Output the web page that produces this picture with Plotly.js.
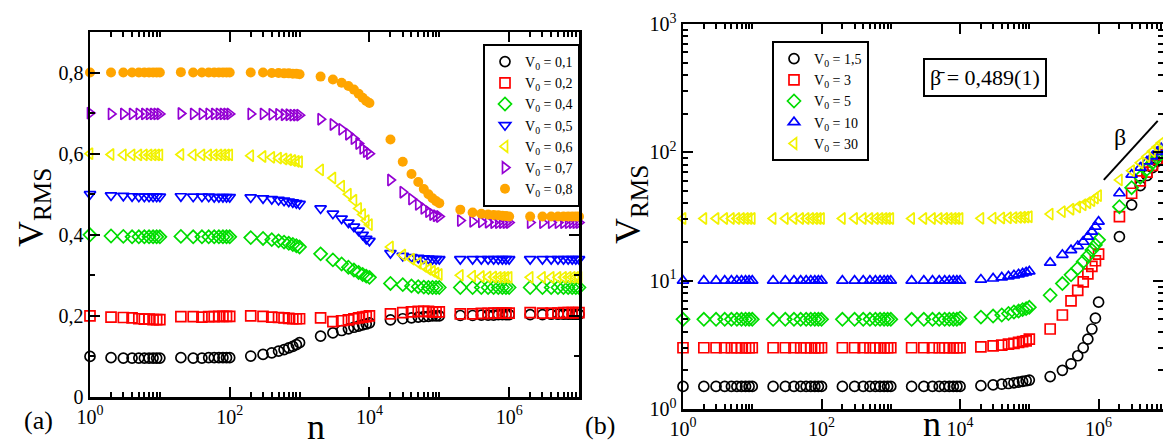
<!DOCTYPE html>
<html><head><meta charset="utf-8">
<script src="https://cdn.plot.ly/plotly-3.0.1.min.js"></script>
<style>html,body{margin:0;padding:0;overflow:hidden;background:#fff}</style>
</head><body><div id="chart" style="width:1163px;height:446px"></div>
<script>
// ---- shared sampling of n ----
const nSteps = [1,2,3,4,5,6,7,8,9,
  10,20,30,40,50,60,70,80,90,
  100,200,300,400,500,600,700,800,900,
  1000,2000,3000,4000,5000,6000,7000,8000,9000,
  10000,20000,30000,40000,50000,60000,70000,80000,90000,
  100000,200000,300000,400000,500000,600000,700000,800000,900000,
  1000000,2000000,3000000,4000000,5000000,6000000,7000000,8000000,9000000,
  10000000];

// ---- panel (a) series ----
const namesA = ["V<sub>0</sub> = 0,1","V<sub>0</sub> = 0,2","V<sub>0</sub> = 0,4","V<sub>0</sub> = 0,5","V<sub>0</sub> = 0,6","V<sub>0</sub> = 0,7","V<sub>0</sub> = 0,8"];
const vA01 = [0.100,0.097,0.096,0.096,0.096,0.096,0.096,0.096,0.096,
  0.096,0.097,0.096,0.096,0.097,0.097,0.097,0.097,0.097,
  0.097,0.101,0.105,0.109,0.113,0.117,0.121,0.125,0.129,
  0.134,0.150,0.158,0.164,0.168,0.172,0.175,0.178,0.180,
  0.183,0.190,0.193,0.195,0.197,0.198,0.199,0.200,0.200,
  0.200,0.201,0.201,0.202,0.202,0.202,0.203,0.203,0.203,
  0.203,0.203,0.203,0.204,0.204,0.204,0.204,0.204,0.204,
  0.204];
const vA02 = [0.200,0.197,0.196,0.195,0.193,0.192,0.192,0.191,0.191,
  0.191,0.198,0.198,0.197,0.198,0.198,0.199,0.199,0.199,
  0.199,0.200,0.199,0.197,0.196,0.195,0.194,0.193,0.193,
  0.193,0.195,0.186,0.188,0.190,0.193,0.195,0.197,0.198,
  0.200,0.205,0.208,0.210,0.211,0.211,0.211,0.210,0.210,
  0.210,0.205,0.205,0.206,0.206,0.207,0.207,0.207,0.207,
  0.207,0.208,0.207,0.207,0.207,0.208,0.208,0.208,0.208,
  0.208];
const vA04 = [0.400,0.397,0.396,0.395,0.395,0.395,0.395,0.395,0.395,
  0.395,0.396,0.395,0.395,0.395,0.395,0.395,0.395,0.395,
  0.395,0.393,0.391,0.388,0.385,0.382,0.379,0.376,0.373,
  0.370,0.353,0.338,0.328,0.320,0.313,0.307,0.302,0.298,
  0.295,0.280,0.277,0.274,0.272,0.271,0.270,0.270,0.270,
  0.270,0.270,0.270,0.270,0.270,0.270,0.270,0.270,0.270,
  0.270,0.270,0.270,0.270,0.270,0.270,0.270,0.270,0.270,
  0.270];
const vA05 = [0.500,0.497,0.496,0.495,0.494,0.494,0.494,0.494,0.494,
  0.494,0.495,0.494,0.494,0.494,0.493,0.493,0.493,0.493,
  0.493,0.492,0.490,0.488,0.486,0.484,0.482,0.480,0.478,
  0.476,0.465,0.452,0.440,0.430,0.420,0.410,0.400,0.390,
  0.385,0.355,0.348,0.345,0.343,0.342,0.341,0.340,0.340,
  0.340,0.340,0.340,0.340,0.340,0.340,0.340,0.340,0.340,
  0.340,0.340,0.340,0.340,0.340,0.340,0.340,0.340,0.340,
  0.340];
const vA06 = [0.600,0.598,0.597,0.597,0.597,0.597,0.597,0.597,0.597,
  0.597,0.598,0.597,0.597,0.597,0.597,0.597,0.597,0.597,
  0.597,0.595,0.593,0.591,0.589,0.587,0.585,0.583,0.581,
  0.580,0.560,0.540,0.520,0.500,0.485,0.465,0.450,0.435,
  0.425,0.370,0.350,0.340,0.330,0.322,0.315,0.310,0.305,
  0.302,0.300,0.298,0.297,0.296,0.296,0.295,0.295,0.295,
  0.295,0.295,0.295,0.295,0.295,0.295,0.295,0.295,0.295,
  0.295];
const vA07 = [0.700,0.698,0.698,0.698,0.698,0.698,0.698,0.698,0.698,
  0.698,0.699,0.698,0.698,0.698,0.698,0.698,0.698,0.698,
  0.698,0.698,0.698,0.697,0.697,0.696,0.696,0.695,0.695,
  0.695,0.685,0.672,0.660,0.648,0.637,0.625,0.613,0.605,
  0.600,0.535,0.505,0.488,0.475,0.465,0.457,0.450,0.447,
  0.445,0.435,0.433,0.432,0.431,0.430,0.430,0.430,0.430,
  0.430,0.430,0.430,0.430,0.430,0.430,0.430,0.430,0.430,
  0.430];
const vA08 = [0.800,0.800,0.800,0.800,0.800,0.800,0.800,0.800,0.800,
  0.800,0.801,0.800,0.800,0.800,0.800,0.800,0.800,0.800,
  0.800,0.800,0.800,0.799,0.799,0.798,0.798,0.797,0.797,
  0.796,0.790,0.783,0.775,0.767,0.758,0.748,0.738,0.730,
  0.725,0.635,0.580,0.550,0.530,0.513,0.500,0.490,0.483,
  0.478,0.462,0.455,0.452,0.450,0.449,0.448,0.447,0.446,
  0.445,0.445,0.445,0.445,0.445,0.445,0.445,0.445,0.445,
  0.445];

// ---- panel (b) series ----
const namesB = ["V<sub>0</sub> = 1,5","V<sub>0</sub> = 3","V<sub>0</sub> = 5","V<sub>0</sub> = 10","V<sub>0</sub> = 30"];
const vB15 = [1.50,1.50,1.50,1.50,1.50,1.50,1.50,1.50,1.50,
  1.50,1.50,1.50,1.50,1.50,1.50,1.50,1.50,1.50,
  1.50,1.50,1.50,1.50,1.50,1.50,1.50,1.50,1.50,
  1.50,1.50,1.50,1.50,1.50,1.50,1.50,1.50,1.50,
  1.50,1.52,1.54,1.56,1.58,1.60,1.62,1.64,1.66,
  1.68,1.79,2.00,2.25,2.60,3.00,3.50,4.20,5.10,
  6.80,22.0,39.0,55.0,66.0,76.0,85.0,93.0,100.0,
  106.0];
const vB3 = [3.00,3.00,3.00,3.00,3.00,3.00,3.00,3.00,3.00,
  3.00,3.00,3.00,3.00,3.00,3.00,3.00,3.00,3.00,
  3.00,3.00,3.00,3.00,3.00,3.00,3.00,3.00,3.00,
  3.00,3.00,3.00,3.00,3.00,3.00,3.00,3.00,3.00,
  3.00,3.05,3.10,3.15,3.20,3.25,3.30,3.35,3.40,
  3.50,4.20,5.40,6.95,8.40,9.80,11.3,12.9,14.3,
  16.1,31.6,48.0,60.0,70.0,79.0,88.0,96.0,103.0,
  110.0];
const vB5 = [5.00,5.00,5.00,5.00,5.00,5.00,5.00,5.00,5.00,
  5.00,5.00,5.00,5.00,5.00,5.00,5.00,5.00,5.00,
  5.00,5.00,5.00,5.00,5.00,5.00,5.00,5.00,5.00,
  5.00,5.00,5.00,5.00,5.00,5.00,5.00,5.00,5.00,
  5.10,5.20,5.30,5.40,5.55,5.70,5.80,5.95,6.05,
  6.20,7.70,9.50,11.1,12.5,14.1,15.6,17.3,19.0,
  20.8,37.7,53.0,64.0,74.0,83.0,91.0,99.0,106.0,
  113.0];
const vB10 = [10.0,10.0,10.0,10.0,10.0,10.0,10.0,10.0,10.0,
  10.0,10.0,10.0,10.0,10.0,10.0,10.0,10.0,10.0,
  10.0,10.0,10.0,10.0,10.0,10.0,10.0,10.0,10.0,
  10.0,10.0,10.0,10.0,10.0,10.0,10.0,10.0,10.0,
  10.0,10.2,10.4,10.6,10.8,11.0,11.2,11.4,11.6,
  11.8,13.8,15.9,17.3,18.6,20.1,22.0,24.1,26.4,
  28.8,48.0,67.0,76.0,85.0,93.0,101.0,108.0,115.0,
  121.0];
const vB30 = [30.5,30.5,30.5,30.5,30.5,30.5,30.5,30.5,30.5,
  30.5,30.5,30.5,30.5,30.5,30.5,30.5,30.5,30.5,
  30.5,30.5,30.5,30.5,30.5,30.5,30.5,30.5,30.5,
  30.5,30.5,30.5,30.5,30.5,30.5,30.5,30.5,30.5,
  30.5,30.6,30.7,30.8,30.9,31.0,31.1,31.2,31.3,
  31.5,33.0,34.5,36.0,37.5,39.0,40.5,42.0,44.0,
  46.0,61.0,72.0,83.0,93.0,102.0,110.0,118.0,125.0,
  132.0];

// slope guide (beta) in panel (b), data coordinates
const betaGuideX = [1.19e6, 7.14e6];
const betaGuideY = [61, 176];

// ---- tick labels ----
const xTickVals = [1, 100, 10000, 1000000];
const xTickText = ["10<sup>0</sup>","10<sup>2</sup>","10<sup>4</sup>","10<sup>6</sup>"];
const xMinorVals = [2,3,4,5,6,7,8,9,10, 200,300,400,500,600,700,800,900,1000,
  20000,30000,40000,50000,60000,70000,80000,90000,100000,
  2000000,3000000,4000000,5000000,6000000,7000000,8000000,9000000,10000000];
const yATickVals = [0, 0.2, 0.4, 0.6, 0.8];
const yATickText = ["0","0,2","0,4","0,6","0,8"];
const yAMinorVals = [0.1, 0.3, 0.5, 0.7];
const yBTickVals = [1, 10, 100, 1000];
const yBTickText = ["10<sup>0</sup>","10<sup>1</sup>","10<sup>2</sup>","10<sup>3</sup>"];
const yBMinorVals = [2,3,4,5,6,7,8,9,20,30,40,50,60,70,80,90,200,300,400,500,600,700,800,900];

const FONT = "Liberation Serif, Times New Roman, serif";
const W = 1163, H = 446;
const px = v => v / W, py = v => (H - v) / H;

const seriesA = [
  {y: vA01, sym: "circle-open", col: "#000000"},
  {y: vA02, sym: "square-open", col: "#ff0000"},
  {y: vA04, sym: "diamond-open", col: "#00dd00"},
  {y: vA05, sym: "triangle-down-open", col: "#0000ff"},
  {y: vA06, sym: "triangle-left-open", col: "#f2f200"},
  {y: vA07, sym: "triangle-right-open", col: "#9400d3"},
  {y: vA08, sym: "circle", col: "#ffa500"}
];
const seriesB = [
  {y: vB15, sym: "circle-open", col: "#000000"},
  {y: vB3, sym: "square-open", col: "#ff0000"},
  {y: vB5, sym: "diamond-open", col: "#00dd00"},
  {y: vB10, sym: "triangle-up-open", col: "#0000ff"},
  {y: vB30, sym: "triangle-left-open", col: "#f2f200"}
];

const traces = [];
seriesA.forEach((s, i) => traces.push({
  type: "scatter", mode: "markers", x: nSteps, y: s.y, name: namesA[i],
  xaxis: "x", yaxis: "y", legend: "legend", cliponaxis: false,
  marker: {symbol: s.sym, size: 10, color: s.col,
    line: {color: s.col, width: s.sym === "circle" ? 0 : 1.7}}
}));
seriesB.forEach((s, i) => traces.push({
  type: "scatter", mode: "markers", x: nSteps, y: s.y, name: namesB[i],
  xaxis: "x2", yaxis: "y2", legend: "legend2", cliponaxis: false,
  marker: {symbol: s.sym, size: 10, color: s.col, line: {color: s.col, width: 1.7}}
}));
traces.push({type: "scatter", mode: "lines", x: betaGuideX, y: betaGuideY,
  xaxis: "x2", yaxis: "y2", showlegend: false, hoverinfo: "skip",
  line: {color: "#000", width: 2}});

const axisCommon = {
  showline: true, linecolor: "#000", linewidth: 2.5, mirror: "allticks",
  ticks: "inside", ticklen: 10, tickwidth: 2, tickcolor: "#000",
  showgrid: false, zeroline: false, tickmode: "array",
  tickfont: {family: FONT, size: 20, color: "#000"}
};
const minorCommon = {ticks: "inside", ticklen: 5, tickwidth: 2, tickcolor: "#000", showgrid: false, tickmode: "array"};

function note(text, x, y, size, extra) {
  return Object.assign({text: text, x: px(x), y: py(y), xref: "paper", yref: "paper",
    xanchor: "center", yanchor: "middle", showarrow: false,
    font: {family: FONT, size: size, color: "#000"}}, extra || {});
}

const layout = {
  width: W, height: H, margin: {l: 0, r: 0, t: 0, b: 0},
  paper_bgcolor: "#fff", plot_bgcolor: "#fff",
  font: {family: FONT, color: "#000"},
  xaxis: Object.assign({}, axisCommon, {type: "log", range: [0, 7], domain: [px(90), px(579)],
    anchor: "y", tickvals: xTickVals, ticktext: xTickText,
    minor: Object.assign({}, minorCommon, {tickvals: xMinorVals})}),
  yaxis: Object.assign({}, axisCommon, {range: [0, 0.9], domain: [py(397), py(32)],
    anchor: "x", tickvals: yATickVals, ticktext: yATickText,
    minor: Object.assign({}, minorCommon, {tickvals: yAMinorVals})}),
  xaxis2: Object.assign({}, axisCommon, {type: "log", range: [0, 6.93], domain: [px(683), 1],
    anchor: "y2", tickvals: xTickVals, ticktext: xTickText,
    minor: Object.assign({}, minorCommon, {tickvals: xMinorVals})}),
  yaxis2: Object.assign({}, axisCommon, {type: "log", range: [0, 3], domain: [py(409), py(24)],
    anchor: "x2", tickvals: yBTickVals, ticktext: yBTickText,
    minor: Object.assign({}, minorCommon, {tickvals: yBMinorVals})}),
  legend: {x: px(483), y: py(44), xanchor: "left", yanchor: "top", bgcolor: "#fff",
    bordercolor: "#000", borderwidth: 2, font: {family: FONT, size: 14, color: "#000"},
    tracegroupgap: 0, itemwidth: 30},
  legend2: {x: px(772), y: py(41), xanchor: "left", yanchor: "top", bgcolor: "#fff",
    bordercolor: "#000", borderwidth: 2, font: {family: FONT, size: 14, color: "#000"},
    tracegroupgap: 0, itemwidth: 30},
  annotations: [
    note("V<sub>RMS</sub>", 33, 208, 36, {textangle: -90}),
    note("V<sub>RMS</sub>", 630, 205, 36, {textangle: -90}),
    note("n", 316, 427, 36),
    note("n", 932, 424, 36),
    note("(a)", 38, 420, 26),
    note("(b)", 600, 425, 26),
    note("\u03B2\u0304 = 0,489(1)", 985, 77, 22,
      {bordercolor: "#000", borderwidth: 2, borderpad: 5, bgcolor: "#fff"}),
    note("\u03B2", 1120, 137, 24)
  ]
};

Plotly.newPlot("chart", traces, layout, {displayModeBar: false, staticPlot: true});
</script></body></html>
